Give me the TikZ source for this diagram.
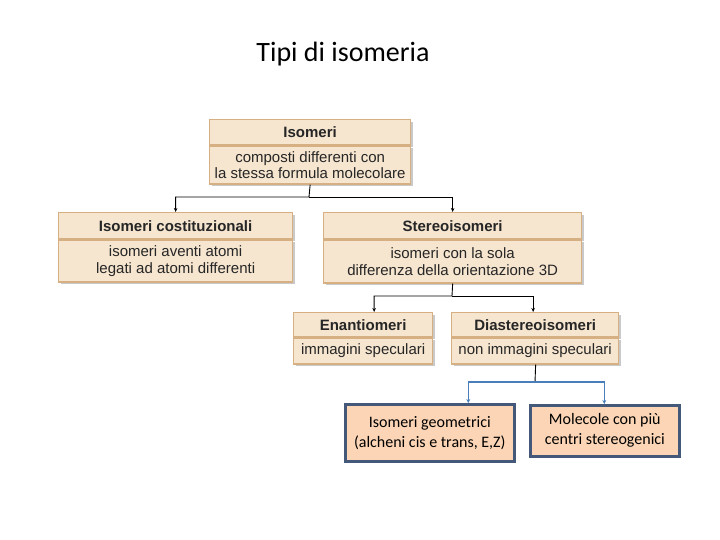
\documentclass[tikz,border=0pt]{standalone}
\usepackage{fontspec}
\setmainfont{Liberation Sans}
\newfontfamily\slidefont{Carlito}
\usetikzlibrary{positioning,arrows.meta,shadows}

\definecolor{boxfill}{HTML}{F6E5CF}
\definecolor{boxline}{HTML}{D6B083}
\definecolor{peach}{HTML}{FBD5B5}
\definecolor{slateline}{HTML}{44597A}
\definecolor{linkblue}{HTML}{4A7EBB}

\tikzset{
  headbox/.style={draw=boxline, fill=boxfill, line width=1.3pt, inner sep=0pt,
    font=\fontsize{15}{16}\selectfont\bfseries, text=black!85,
    drop shadow={shadow xshift=2.5pt, shadow yshift=-2.5pt, opacity=.35, fill=black!60}},
  bodybox/.style={headbox, font=\fontsize{15}{16.5}\selectfont, align=center},
  slidebox/.style={draw=slateline, fill=peach, line width=2.6pt, inner sep=0pt,
    font=\slidefont\fontsize{16}{20}\selectfont, align=center},
  link/.style={-{Stealth[length=4pt,width=3.5pt]}, line width=0.9pt},
  bluelink/.style={-{Stealth[length=4pt,width=4pt]}, line width=1.4pt, draw=linkblue}
}

\begin{document}
\begin{tikzpicture}[x=1pt, y=-1pt]
  \useasboundingbox[fill=white] (0,0) rectangle (720,540);

  % Title
  \node[font=\slidefont\fontsize{28}{32}\selectfont] (title) at (343,54) {Tipi di isomeria};

  % Isomeri
  \node[headbox, anchor=north west, minimum width=201pt, minimum height=25pt] (isohead) at (209,119) {Isomeri};
  \node[bodybox, below=0pt of isohead, minimum width=201pt, minimum height=38pt] (isobody) {composti differenti con\\la stessa formula molecolare};

  % Isomeri costituzionali / Stereoisomeri
  \node[headbox, anchor=north west, minimum width=234pt, minimum height=26pt] (costhead) at (58,212) {Isomeri costituzionali};
  \node[bodybox, below=0pt of costhead, minimum width=234pt, minimum height=42pt] (costbody) {isomeri aventi atomi\\legati ad atomi differenti};
  \node[headbox, anchor=north west, minimum width=258pt, minimum height=26pt] (stereohead) at (323,212) {Stereoisomeri};
  \node[bodybox, below=0pt of stereohead, minimum width=258pt, minimum height=43pt] (stereobody) {isomeri con la sola\\differenza della orientazione 3D};

  % Enantiomeri / Diastereoisomeri
  \node[headbox, anchor=north west, minimum width=139pt, minimum height=24pt] (enanthead) at (293,312) {Enantiomeri};
  \node[bodybox, below=0pt of enanthead, minimum width=139pt, minimum height=26pt] (enantbody) {immagini speculari};
  \node[headbox, anchor=north west, minimum width=167pt, minimum height=24pt] (diasthead) at (451,312) {Diastereoisomeri};
  \node[bodybox, below=0pt of diasthead, minimum width=167pt, minimum height=26pt] (diastbody) {non immagini speculari};

  % Slide boxes
  \node[slidebox, anchor=north west, minimum width=169pt, minimum height=57pt] (geo) at (344,403) {Isomeri geometrici\\(alcheni cis e trans, E,Z)};
  \node[slidebox, anchor=north west, minimum width=149pt, minimum height=51pt] (multi) at (529,404) {Molecole con più\\centri stereogenici};

  % Connectors
  \coordinate (split1) at (309,197);
  \coordinate (split2) at (452,296);
  \coordinate (split3) at (535,382);
  \draw[link] (isobody.south) -- (split1) -| (costhead.north);
  \draw[link] (split1) -| (stereohead.north);
  \draw[link] (stereobody.south) -- (split2) -| ([xshift=11pt]enanthead.north);
  \draw[link] (split2) -| ([xshift=-2pt]diasthead.north);
  \draw[line width=0.9pt] ([xshift=0.5pt]diastbody.south) -- (split3);
  \draw[bluelink] (split3) -| ([xshift=38.5pt]geo.north);
  \draw[bluelink] (split3) -| ([xshift=-0.5pt]multi.north);
\end{tikzpicture}
\end{document}
